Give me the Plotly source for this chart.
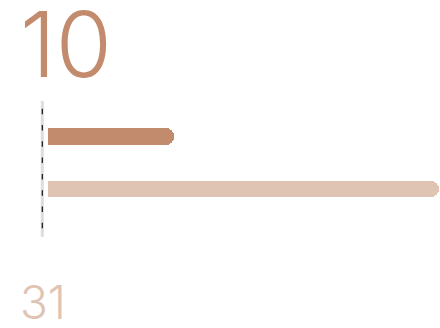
import plotly.graph_objects as go

# Progress values: current amount vs. total
categories = ["Total", "Current"]
values = [31, 10]
bar_colors = ["#DFC3B3", "#C38B6D"]

current_value = values[1]
total_value = values[0]

W, H = 440, 328
left, right, top, bottom = 48, 1, 101, 91
plot_w = W - left - right
plot_h = H - top - bottom


def px_x(px):
    """Pixel column -> paper x."""
    return (px - left) / plot_w


def px_y(py):
    """Pixel row (from top) -> paper y."""
    return (H - bottom - py) / plot_h


fig = go.Figure()
fig.add_trace(go.Bar(
    y=[0, 1],
    x=values,
    orientation="h",
    width=0.32,
    marker=dict(color=bar_colors, cornerradius=8, line=dict(width=0)),
    hoverinfo="skip",
))

# Baseline: light gray rule with a thin black dashed line over it
line_x = px_x(42.3)
fig.add_shape(type="line", xref="paper", yref="paper",
              x0=line_x, x1=line_x, y0=px_y(101), y1=0,
              line=dict(color="#DDDDDD", width=3))
fig.add_shape(type="line", xref="paper", yref="paper",
              x0=line_x, x1=line_x, y0=px_y(108.7), y1=0,
              line=dict(color="#111111", width=1.2, dash="5.5px,10.8px"))

# Big value labels
fig.add_annotation(text=str(current_value), xref="paper", yref="paper",
                   x=px_x(18), y=px_y(-13),
                   xanchor="left", yanchor="top", showarrow=False,
                   font=dict(family="Inter", size=91, weight=350, color="#C38B6D"))
fig.add_annotation(text=str(total_value), xref="paper", yref="paper",
                   x=px_x(18), y=px_y(331.5),
                   xanchor="left", yanchor="bottom", showarrow=False,
                   font=dict(family="Inter", size=46, weight=350, color="#DFC3B3"))

fig.update_layout(
    width=W, height=H,
    margin=dict(l=left, r=right, t=top, b=bottom),
    paper_bgcolor="white", plot_bgcolor="white",
    showlegend=False,
    xaxis=dict(range=[0, total_value], visible=False, fixedrange=True),
    yaxis=dict(range=[-0.914, 1.68], visible=False, fixedrange=True),
    bargap=0,
)

fig.write_html("out.html", config={"displayModeBar": False})
